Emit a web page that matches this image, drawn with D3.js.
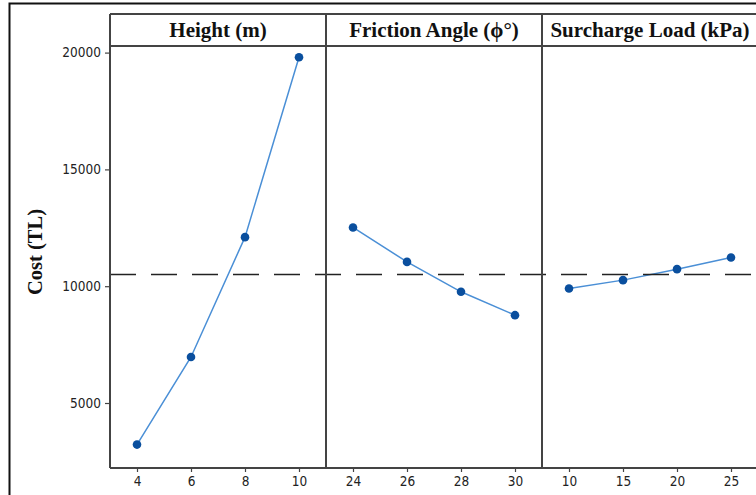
<!DOCTYPE html>
<html><head><meta charset="utf-8">
<script src="https://cdn.jsdelivr.net/npm/d3@7"></script>
<style>html,body{margin:0;padding:0;background:#fff;}svg{display:block;}</style>
</head><body>
<script>
// ---- data ----
const factors = ["Height (m)", "Friction Angle (\u03D5\u00B0)", "Surcharge Load (kPa)"];
const heightLevels = ["4", "6", "8", "10"];
const heightCost = [3220, 6970, 12100, 19800];
const frictionLevels = ["24", "26", "28", "30"];
const frictionCost = [12515, 11040, 9760, 8760];
const surchargeLevels = ["10", "15", "20", "25"];
const surchargeCost = [9900, 10260, 10730, 11230];
const meanCost = 10500;
const yTicks = [5000, 10000, 15000, 20000];
const yLabel = "Cost (TL)";

const panels = [
  {title: factors[0], levels: heightLevels, values: heightCost},
  {title: factors[1], levels: frictionLevels, values: frictionCost},
  {title: factors[2], levels: surchargeLevels, values: surchargeCost}
];

const W = 756, H = 495;
const svg = d3.select("body").append("svg").attr("width", W).attr("height", H);

// outer frame
svg.append("rect").attr("x", 9.5).attr("y", 3.5).attr("width", 760).attr("height", 500)
  .attr("fill", "none").attr("stroke", "#111").attr("stroke-width", 2);

const left = 110, panelW = 216, headTop = 14, headBot = 46, plotBot = 468;
const y = d3.scaleLinear().domain([5000, 20000]).range([403, 52.6]);

const serif = "'Liberation Serif', 'Times New Roman', serif";
const sans = "'DejaVu Sans Condensed', 'DejaVu Sans', sans-serif";
const frameCol = "#444";

// y axis
const yAxisG = svg.append("g").attr("transform", `translate(${left},0)`)
  .call(d3.axisLeft(y).tickValues(yTicks).tickSize(5).tickPadding(4).tickFormat(d3.format("d")));
yAxisG.select(".domain").remove();
yAxisG.selectAll(".tick line").attr("stroke", frameCol).attr("stroke-width", 1.2);
yAxisG.selectAll(".tick text").attr("font-family", sans).attr("font-size", 13.5).attr("fill", "#222");

// y label
svg.append("text").attr("transform", `translate(42,252) rotate(-90)`)
  .attr("text-anchor", "middle").attr("font-family", serif).attr("font-weight", "bold")
  .attr("font-size", 20.5).attr("fill", "#111").text(yLabel);

panels.forEach((p, i) => {
  const x0 = left + i * panelW;
  const x = d3.scalePoint().domain(p.levels).range([x0, x0 + panelW]).padding(0.5);

  // x axis ticks
  const xg = svg.append("g").attr("transform", `translate(0,${plotBot})`)
    .call(d3.axisBottom(x).tickSize(4).tickPadding(4));
  xg.select(".domain").remove();
  xg.selectAll(".tick line").attr("stroke", frameCol).attr("stroke-width", 1.2);
  xg.selectAll(".tick text").attr("font-family", sans).attr("font-size", 13.5).attr("fill", "#222");

  // title
  svg.append("text").attr("x", x0 + panelW / 2).attr("y", 37)
    .attr("text-anchor", "middle").attr("font-family", serif).attr("font-weight", "bold")
    .attr("font-size", 21).attr("fill", "#111").text(p.title);

  const pts = p.levels.map((l, j) => [x(l), y(p.values[j])]);
  svg.append("path").attr("d", d3.line()(pts)).attr("fill", "none")
    .attr("stroke", "#4a8fd6").attr("stroke-width", 1.5);
  svg.selectAll(null).data(pts).enter().append("circle")
    .attr("cx", d => d[0]).attr("cy", d => d[1]).attr("r", 4.3).attr("fill", "#0a4f9e");
});

// mean dashed line
svg.append("line").attr("x1", left).attr("x2", W).attr("y1", y(meanCost)).attr("y2", y(meanCost))
  .attr("stroke", "#222").attr("stroke-width", 1.6).attr("stroke-dasharray", "26,15");

// frame lines
const fl = svg.append("g").attr("stroke", frameCol).attr("stroke-width", 2).attr("fill", "none");
fl.append("line").attr("x1", left).attr("x2", W + 5).attr("y1", headTop).attr("y2", headTop);
fl.append("line").attr("x1", left).attr("x2", W + 5).attr("y1", headBot).attr("y2", headBot);
fl.append("line").attr("x1", left).attr("x2", W + 5).attr("y1", plotBot).attr("y2", plotBot);
for (let i = 0; i <= 3; i++) {
  fl.append("line").attr("x1", left + i * panelW).attr("x2", left + i * panelW)
    .attr("y1", headTop).attr("y2", plotBot);
}
</script>
</body></html>
